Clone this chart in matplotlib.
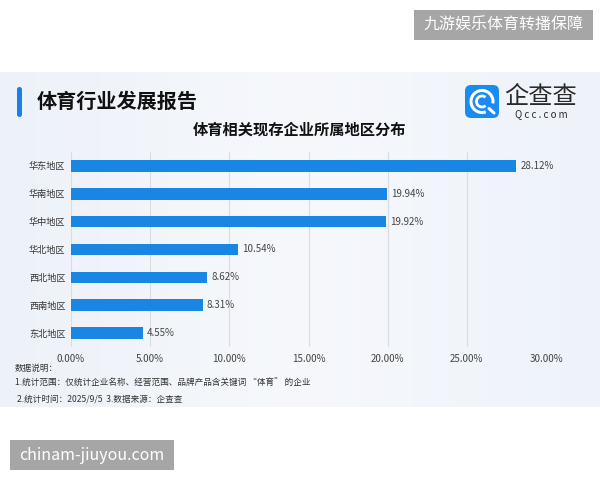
import matplotlib.pyplot as plt
import matplotlib.patches as mpatches
from matplotlib.colors import LinearSegmentedColormap
import numpy as np

plt.rcParams['font.family'] = ['Noto Sans CJK SC', 'DejaVu Sans']

# data
regions = ["华东地区", "华南地区", "华中地区", "华北地区", "西北地区", "西南地区", "东北地区"]
shares = [28.12, 19.94, 19.92, 10.54, 8.62, 8.31, 4.55]
xticks = [0, 5, 10, 15, 20, 25, 30]

W, H = 600, 480
fig = plt.figure(figsize=(6, 4.8), dpi=100)

# background layer in pixel coords
bg = fig.add_axes([0, 0, 1, 1])
bg.set_xlim(0, W)
bg.set_ylim(H, 0)
bg.axis("off")

# light panel with soft gradient
grad = np.linspace(0, 1, 256).reshape(1, -1)
cmap = LinearSegmentedColormap.from_list("p", ["#edf2f9", "#f6f8fc", "#eef3fa"])
bg.imshow(grad, extent=(0, W, 407, 72), cmap=cmap, aspect="auto", zorder=0)

# title bar + title
bg.add_patch(mpatches.FancyBboxPatch((17, 87), 5, 30, boxstyle="round,pad=0,rounding_size=2.5",
                                     fc="#1a7fe6", ec="none", zorder=2))
bg.text(37, 101, "体育行业发展报告", fontsize=14.5, fontweight="bold", color="#111111",
        va="center", ha="left", zorder=3)

# logo
bg.add_patch(mpatches.FancyBboxPatch((465, 85), 34, 33, boxstyle="round,pad=0,rounding_size=6",
                                     fc="#1a8bf0", ec="none", zorder=2))
bg.add_patch(mpatches.Arc((482, 101.5), 22, 22, theta1=70, theta2=10, ec="white", lw=2.2, zorder=3))
bg.add_patch(mpatches.Arc((482, 101.5), 11, 11, theta1=50, theta2=310, ec="white", lw=2, zorder=3))
bg.plot([489, 494], [108.5, 113], color="white", lw=2.2, solid_capstyle="round", zorder=3)
bg.text(541, 97, "企查查", fontsize=17.5, color="#2a2a2a", ha="center", va="center", zorder=3)
bg.text(541, 114, "Q c c . c o m", fontsize=7, color="#2a2a2a", ha="center", va="center", zorder=3)

# chart title
bg.text(300, 130, "体育相关现存企业所属地区分布", fontsize=11, fontweight="bold", color="#111111",
        ha="center", va="center", zorder=3)

# notes
bg.text(15, 368, "数据说明：", fontsize=6.2, color="#333333", va="center", zorder=3)
bg.text(15, 383, "1.统计范围：仅统计企业名称、经营范围、品牌产品含关键词 “体育” 的企业",
        fontsize=6.2, color="#333333", va="center", zorder=3)
bg.text(17, 399, "2.统计时间：2025/9/5  3.数据来源：企查查", fontsize=6.2, color="#333333",
        va="center", zorder=3)

# watermarks
bg.add_patch(mpatches.Rectangle((414, 10), 179, 30, fc="#a6a6a6", ec="none", zorder=4))
bg.text(503.5, 25, "九游娱乐体育转播保障", fontsize=11.5, color="white", ha="center", va="center", zorder=5)
bg.add_patch(mpatches.Rectangle((10, 440), 164, 30, fc="#a6a6a6", ec="none", zorder=4))
bg.text(92, 455, "chinam-jiuyou.com", fontsize=11.5, color="white", ha="center", va="center", zorder=5)

# chart axes: x 71..546 px, y 152..347 px
ax = fig.add_axes([71 / W, 1 - 347 / H, (546 - 71) / W, (347 - 152) / H])
ax.patch.set_alpha(0)
y = np.arange(len(regions))
ax.barh(y, shares, height=0.42, color="#1a86e3", zorder=3)
for yi, v in zip(y, shares):
    ax.text(v + 0.25, yi, f"{v:.2f}%", va="center", ha="left", fontsize=7, color="#444444")

ax.set_xlim(0, 30)
ax.set_ylim(len(regions) - 0.5, -0.5)
ax.set_yticks(y)
ax.set_yticklabels(regions, fontsize=6.6, color="#333333")
ax.set_xticks(xticks)
ax.set_xticklabels([f"{t:.2f}%" for t in xticks], fontsize=7, color="#444444")
ax.tick_params(axis="y", length=0, pad=4)
ax.tick_params(axis="x", length=0, pad=5)
ax.grid(axis="x", color="#d9dde3", lw=0.8, zorder=0)
for s in ax.spines.values():
    s.set_visible(False)

fig.savefig("out.png", dpi=100)
